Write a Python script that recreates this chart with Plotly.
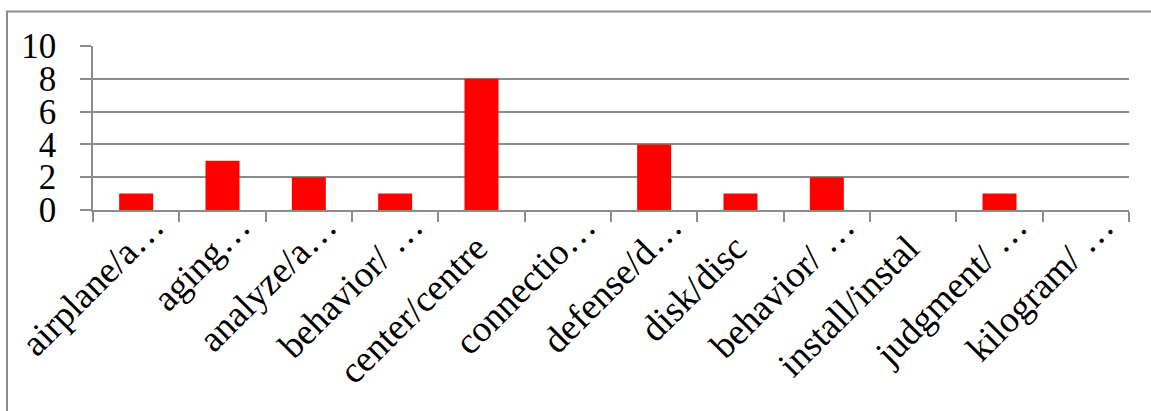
import plotly.graph_objects as go

categories = ["airplane/a…", "aging…", "analyze/a…", "behavior/ …", "center/centre",
              "connectio…", "defense/d…", "disk/disc", "behavior/ … (2)", "install/instal",
              "judgment/ …", "kilogram/ …"]
tick_labels = ["airplane/a…", "aging…", "analyze/a…", "behavior/ …", "center/centre",
               "connectio…", "defense/d…", "disk/disc", "behavior/ …", "install/instal",
               "judgment/ …", "kilogram/ …"]
values = [1, 3, 2, 1, 8, 0, 4, 1, 2, 0, 1, 0]
y_ticks = [0, 2, 4, 6, 8, 10]

FONT = "Liberation Serif, Times New Roman, serif"
GRID = "#8c8c8c"


def fmt(label):
    # truncated labels: the ellipsis overflows the label box, as in the original
    if label.endswith("…"):
        return label[:-1] + "<span style='letter-spacing:-31px'>…</span>"
    return label


fig = go.Figure(go.Bar(x=categories, y=values, marker=dict(color="#ff0000", line=dict(width=0))))

fig.update_layout(
    width=1151, height=411,
    margin=dict(l=93, r=22, t=46, b=201, autoexpand=False),
    plot_bgcolor="white", paper_bgcolor="white",
    bargap=0.606,
    showlegend=False,
    font=dict(family=FONT, size=35, color="black"),
    shapes=[dict(type="rect", xref="paper", yref="paper",
                 x0=-0.083, x1=1.2, y0=-3, y1=1.211,
                 line=dict(color="#8c8c8c", width=2), fillcolor="rgba(0,0,0,0)", layer="below")],
)
fig.update_yaxes(
    range=[0, 10], tickvals=y_ticks, ticktext=[str(v) for v in y_ticks],
    showgrid=True, gridcolor=GRID, gridwidth=1.5,
    showline=True, linecolor=GRID, linewidth=1.5,
    ticks="outside", ticklen=11, tickcolor=GRID, tickwidth=1.5,
    ticklabelstandoff=17, zeroline=False, automargin=False,
    tickfont=dict(family=FONT, size=35, color="black"),
)
fig.update_xaxes(
    type="category", tickangle=-45,
    tickvals=categories, ticktext=[fmt(t) for t in tick_labels],
    showline=True, linecolor=GRID, linewidth=1.5,
    ticks="outside", ticklen=10, tickcolor=GRID, tickwidth=1.5,
    tickson="boundaries", showgrid=False, automargin=False,
    ticklabelshift=-5,
    tickfont=dict(family=FONT, size=37, color="black"),
)

fig.write_html("out.html")
